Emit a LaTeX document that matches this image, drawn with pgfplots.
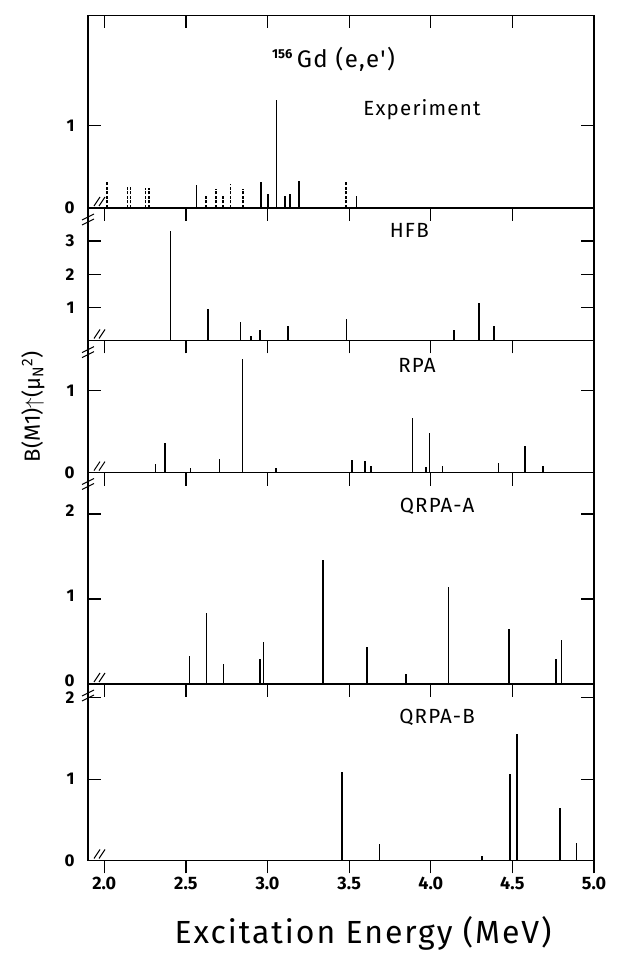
\documentclass[border=0pt]{standalone}
\usepackage{pgfplots}
\pgfplotsset{compat=1.18}
\usepackage{fontspec}
\setmainfont{Fira Sans}
\newfontfamily\numfont{Fira Sans}
\newfontfamily\spacedfont{Fira Sans}[LetterSpace=6]
\tikzset{lab/.style={font=\spacedfont\fontsize{20.5}{20.5}\selectfont}}
\begin{document}
\begin{tikzpicture}
\useasboundingbox (0pt,0pt) rectangle (630pt,954pt);
\pgfplotsset{
  panel/.style={
    scale only axis, width=506pt, xmin=1.9, xmax=5.0, ymin=0,
    anchor=south west,
    axis line style={line width=1.5pt},
    xtick={2,2.5,...,5}, xtick pos=left, xtick align=outside,
    ytick pos=both, ytick align=inside,
    major tick length=13pt,
    tick style={line width=1.3pt, black},
    xticklabels={},
    yticklabel style={font=\numfont\bfseries\fontsize{17}{17}\selectfont, xshift=-10pt},
    /pgf/number format/assume math mode=true,
    clip=false,
  },
  stick/.style={ycomb, mark=none, line width=1.6pt, black},
  dstick/.style={ycomb, mark=none, line width=1.6pt, black, dash pattern=on 3pt off 1.5pt},
}
\newcommand{\breakmarks}{%
  \draw[line width=1pt] ([xshift=6pt,yshift=2pt]axis description cs:0,0) -- ++(6pt,9pt);
  \draw[line width=1pt] ([xshift=11pt,yshift=2pt]axis description cs:0,0) -- ++(6pt,9pt);
}
\newcommand{\leftbreak}{%
  \draw[line width=1pt] ([xshift=-6pt,yshift=-12pt]axis description cs:0,1) -- ++(12pt,6pt);
  \draw[line width=1pt] ([xshift=-6pt,yshift=-17pt]axis description cs:0,1) -- ++(12pt,6pt);
}

% ---------------- Experiment ----------------
\begin{axis}[panel, at={(88pt,746pt)}, height=192.5pt, ymax=2.33, ytick={0,1}]
\addplot[stick] coordinates {
(2.565,0.28) (2.960,0.31) (3.002,0.17) (3.055,1.31) (3.108,0.15)
(3.139,0.17) (3.194,0.33) (3.546,0.14)};
\addplot[dstick] coordinates {
(2.017,0.31) (2.143,0.25) (2.160,0.25) (2.253,0.24) (2.274,0.24)
(2.622,0.15) (2.686,0.23) (2.728,0.15) (2.774,0.29) (2.850,0.23) (3.480,0.31)};
\node[font=\spacedfont\fontsize{24}{24}\selectfont] at (axis description cs:0.485,0.77) {\textsuperscript{\numfont\bfseries\fontsize{13}{13}\selectfont 156}\,Gd (e,e')};
\node[lab] at (axis description cs:0.66,0.51) {Experiment};
\breakmarks
\end{axis}
\begin{axis}[scale only axis, width=506pt, height=192.5pt, at={(88pt,746pt)}, anchor=south west,
  xmin=1.9, xmax=5, ymin=0, ymax=2.33, axis x line*=top, axis y line=none,
  xtick={2,2.5,...,4.5}, xticklabels={}, xtick align=inside, major tick length=13pt,
  tick style={line width=1.3pt, black}, axis line style={line width=1.5pt}]
\addplot[draw=none] coordinates {(2,0)};
\end{axis}

% ---------------- HFB ----------------
\begin{axis}[panel, at={(88pt,613.5pt)}, height=132.5pt, ymax=4.0, ytick={1,2,3}]
\addplot[stick] coordinates {
(2.405,3.30) (2.634,0.95) (2.834,0.55) (2.897,0.13) (2.952,0.31)
(3.124,0.44) (3.483,0.65) (4.143,0.31) (4.294,1.12) (4.387,0.44)};
\node[lab] at (axis description cs:0.635,0.83) {HFB};
\breakmarks
\leftbreak
\end{axis}

% ---------------- RPA ----------------
\begin{axis}[panel, at={(88pt,481.4pt)}, height=132pt, ymax=1.61, ytick={0,1}]
\addplot[stick] coordinates {
(2.314,0.11) (2.372,0.36) (2.529,0.05) (2.705,0.17) (2.847,1.39)
(3.052,0.06) (3.517,0.15) (3.596,0.14) (3.632,0.08) (3.889,0.67)
(3.971,0.07) (3.992,0.48) (4.071,0.08) (4.416,0.12) (4.577,0.32) (4.688,0.08)};
\node[lab] at (axis description cs:0.65,0.81) {RPA};
\breakmarks
\leftbreak
\end{axis}

% ---------------- QRPA-A ----------------
\begin{axis}[panel, at={(88pt,270pt)}, height=211.5pt, ymax=2.49, ytick={0,1,2},
  yticklabel style={yshift=3pt}]
\addplot[stick] coordinates {
(2.521,0.33) (2.625,0.83) (2.729,0.23) (2.952,0.29) (2.975,0.49)
(3.340,1.46) (3.608,0.44) (3.848,0.12) (4.108,1.14) (4.479,0.65)
(4.767,0.29) (4.802,0.52)};
\node[lab] at (axis description cs:0.69,0.84) {QRPA-A};
\breakmarks
\leftbreak
\end{axis}

% ---------------- QRPA-B ----------------
\begin{axis}[panel, at={(88pt,93.5pt)}, height=176.5pt, ymax=2.17, ytick={0,1,2},
  xticklabels={2.0,2.5,3.0,3.5,4.0,4.5,5.0},
  xticklabel style={font=\numfont\bfseries\fontsize{18}{18}\selectfont}]
\addplot[stick] coordinates {
(3.455,1.09) (3.685,0.20) (4.313,0.05) (4.484,1.06) (4.530,1.56)
(4.791,0.64) (4.894,0.22)};
\node[lab] at (axis description cs:0.69,0.81) {QRPA-B};
\breakmarks
\leftbreak
\end{axis}

\node[rotate=90, font=\fontsize{22}{22}\selectfont] at (33pt,547pt) {B(M1)$\uparrow$(µ\textsubscript{N}\textsuperscript{2})};
\node[font=\spacedfont\fontsize{32}{32}\selectfont, anchor=base, inner sep=0pt] at (363pt,10pt) {Excitation Energy (MeV)};
\end{tikzpicture}
\end{document}
